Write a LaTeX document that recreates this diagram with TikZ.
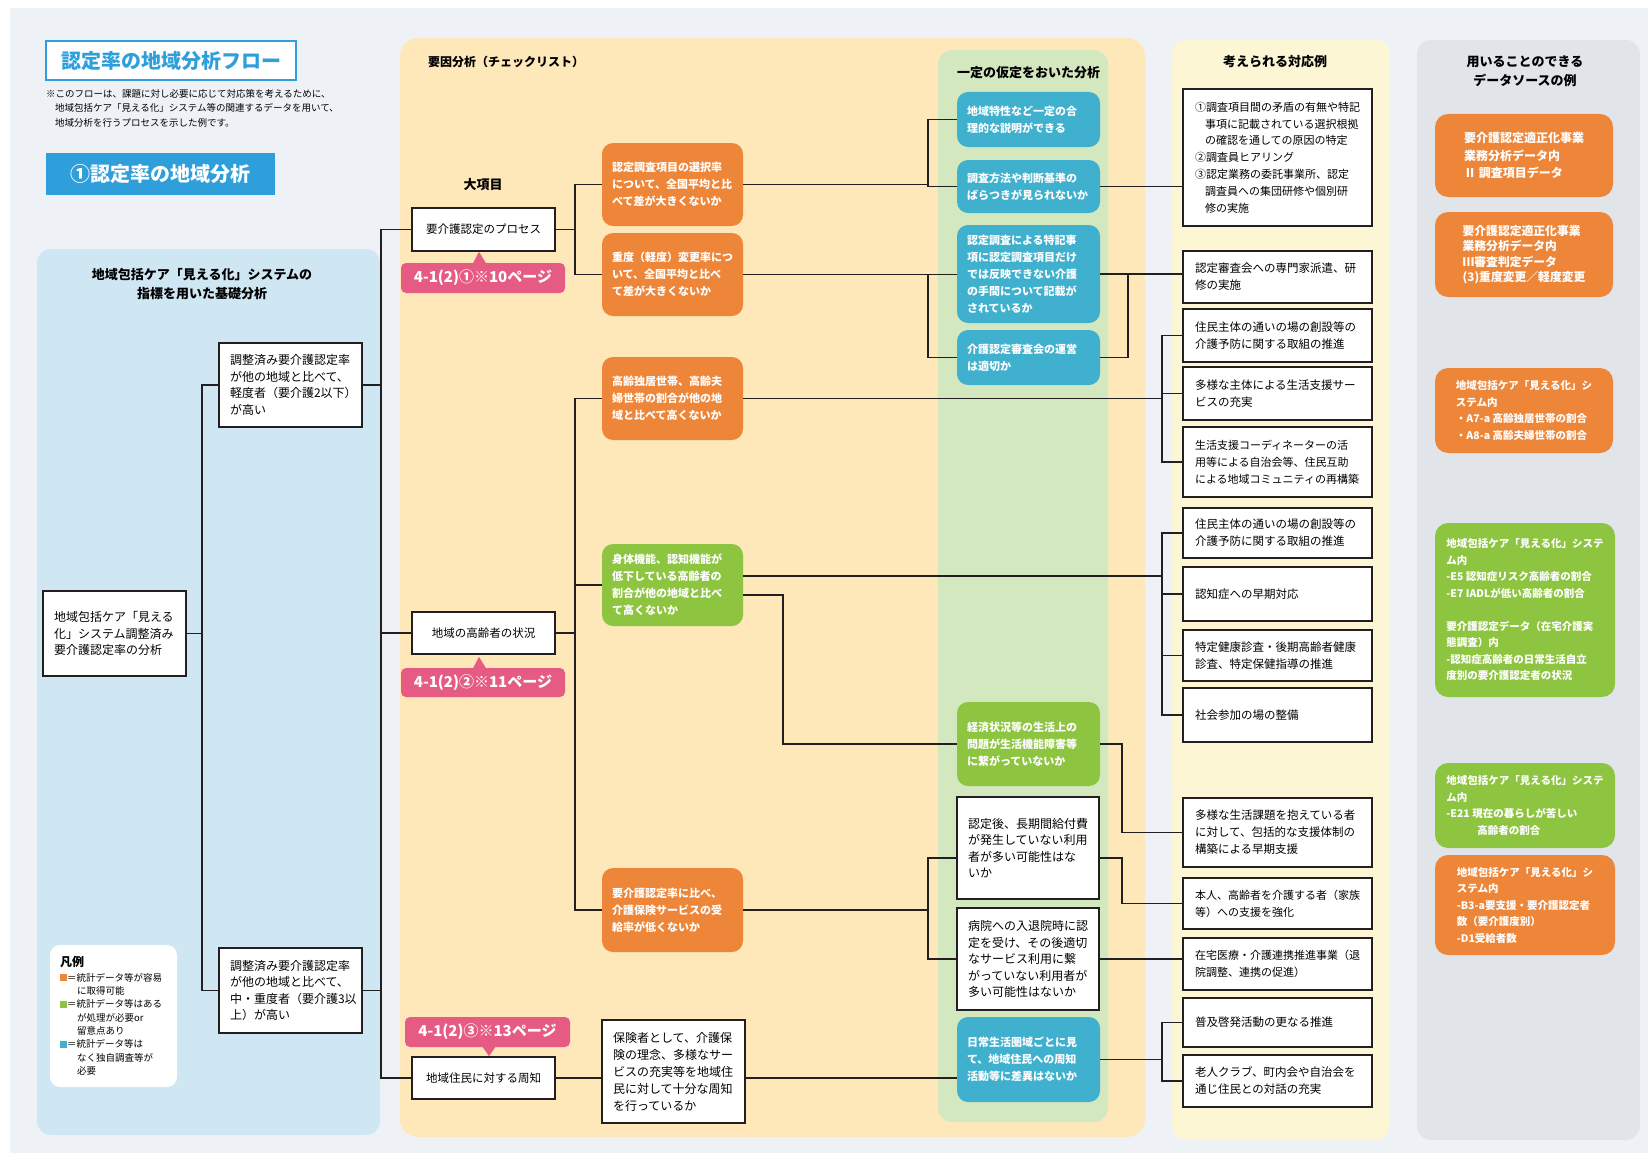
\documentclass[tikz,border=0pt]{standalone}
\usepackage{fontspec}
\setmainfont{Noto Sans CJK JP}

\definecolor{bgc}{HTML}{EEF2F7}
\definecolor{lpc}{HTML}{CFE6F3}
\definecolor{mpc}{HTML}{FEE7B9}
\definecolor{gpc}{HTML}{D4E8C0}
\definecolor{rpc}{HTML}{FDF6D4}
\definecolor{dpc}{HTML}{E1E5EA}
\definecolor{ocol}{HTML}{EE8639}
\definecolor{gcol}{HTML}{8DC540}
\definecolor{tcol}{HTML}{3FB0CD}
\definecolor{pcol}{HTML}{E65B83}
\definecolor{bcol}{HTML}{2E9FDB}
\definecolor{linec}{HTML}{231F20}

\tikzset{
  conn/.style={draw=linec, line width=1.1pt},
  cbox/.style={rounded corners=11pt, text=white, align=left,
    font=\bfseries\fontsize{11}{17}\selectfont,
    text width=121pt, inner xsep=10pt, inner ysep=0pt},
  obox/.style={cbox, fill=ocol},
  gbox/.style={cbox, fill=gcol},
  tbox/.style={cbox, fill=tcol, text width=123pt},
  wbox/.style={draw=linec, line width=1.2pt, fill=white, align=left,
    font=\fontsize{12}{16.5}\selectfont,
    text width=121pt, inner xsep=11pt, inner ysep=0pt},
  kbox/.style={draw=linec, line width=1.2pt, fill=white,
    font=\fontsize{11.5}{14}\selectfont,
    minimum width=143pt, minimum height=42pt, inner sep=0pt},
  rbox/.style={draw=linec, line width=1.2pt, fill=white, align=left,
    font=\fontsize{11.5}{17}\selectfont,
    text width=165pt, inner xsep=12pt, inner ysep=0pt},
  rsmall/.style={font=\fontsize{11}{16.8}\selectfont},
  dbox/.style={rounded corners=13pt, text=white, align=left,
    font=\bfseries\fontsize{10.5}{16.5}\selectfont,
    minimum width=178pt, inner sep=0pt},
  tagbox/.style={fill=pcol, rounded corners=5pt, text=white,
    font=\bfseries\fontsize{15}{18}\selectfont,
    minimum width=164pt, minimum height=30pt, inner sep=0pt},
  headtext/.style={font=\bfseries\fontsize{13}{19}\selectfont, align=center, inner sep=0pt}
}

\begin{document}
\begin{tikzpicture}[x=1pt,y=-1pt]
\useasboundingbox (0,0) rectangle (1648,1153);
\fill[white] (0,0) rectangle (1648,1153);
\fill[bgc] (10,8) rectangle (1648,1153);

% column panels
\fill[lpc, rounded corners=14pt] (37,249) rectangle (380,1135);
\fill[mpc, rounded corners=18pt] (400,38) rectangle (1145,1137);
\fill[gpc, rounded corners=14pt] (938,50) rectangle (1108,1122);
\fill[rpc, rounded corners=14pt] (1172,40) rectangle (1390,1140);
\fill[dpc, rounded corners=14pt] (1417,40) rectangle (1640,1140);

% title block
\node[draw=bcol, line width=1.3pt, fill=white, minimum width=250pt, minimum height=39pt,
  text=bcol, font=\bfseries\fontsize{20}{24}\selectfont, inner sep=0pt] (title) at (171,60.5) {認定率の地域分析フロー};
\node[anchor=north west, align=left, inner sep=0pt, font=\fontsize{9.5}{14.5}\selectfont] (note) at (46,89)
  {※このフローは、課題に対し必要に応じて対応策を考えるために、\\\hspace*{9pt}地域包括ケア「見える化」システム等の関連するデータを用いて、\\\hspace*{9pt}地域分析を行うプロセスを示した例です。};
\node[fill=bcol, minimum width=229pt, minimum height=42pt, text=white,
  font=\bfseries\fontsize{20}{24}\selectfont, inner sep=0pt] (banner) at (160.5,174) {①認定率の地域分析};

% basic analysis column
\node[headtext] (lhead) at (202,284) {地域包括ケア「見える化」システムの\\指標を用いた基礎分析};
\node[wbox, minimum height=85pt] (A) at (114.5,633.5) {地域包括ケア「見える\\化」システム調整済み\\要介護認定率の分析};
\node[wbox, minimum height=84pt] (B1) at (290.5,385) {調整済み要介護認定率\\が他の地域と比べて、\\軽度者（要介護2以下）\\が高い};
\node[wbox, minimum height=85pt] (B2) at (290.5,990.5) {調整済み要介護認定率\\が他の地域と比べて、\\中・重度者（要介護3以\\上）が高い};

% legend
\node[fill=white, rounded corners=10pt, minimum width=127pt, minimum height=142pt] (legbg) at (113.5,1016) {};
\node[anchor=west, inner sep=0pt, font=\bfseries\fontsize{12}{14}\selectfont] (legt) at (60,962) {凡例};
\node[anchor=north west, align=left, inner sep=0pt, font=\fontsize{9.5}{13.3}\selectfont] (legi) at (60,973)
  {\textcolor{ocol}{\rule{7pt}{7pt}}＝統計データ等が容易\\\hspace*{17pt}に取得可能\\
   \textcolor{gcol}{\rule{7pt}{7pt}}＝統計データ等はある\\\hspace*{17pt}が処理が必要or\\\hspace*{17pt}留意点あり\\
   \textcolor{tcol}{\rule{7pt}{7pt}}＝統計データ等は\\\hspace*{17pt}なく独自調査等が\\\hspace*{17pt}必要};

% factor analysis column
\node[anchor=west, inner sep=0pt, font=\bfseries\fontsize{12}{16}\selectfont] (mhead) at (428,62) {要因分析（チェックリスト）};
\node[headtext] (daik) at (483,185) {大項目};

\node[kbox, minimum height=43pt] (C1) at (483.5,229.5) {要介護認定のプロセス};
\node[kbox] (C2) at (483.5,633) {地域の高齢者の状況};
\node[kbox] (C3) at (483.5,1078) {地域住民に対する周知};

\node[tagbox] (tag1) at (483,278) {4-1(2)①※10ページ};
\fill[pcol] ([xshift=-10pt,yshift=-0.5pt]tag1.north) -- ([xshift=-4pt,yshift=11pt]tag1.north) -- ([xshift=3pt,yshift=-0.5pt]tag1.north) -- cycle;
\node[tagbox, minimum height=29pt] (tag2) at (483,682.5) {4-1(2)②※11ページ};
\fill[pcol] ([xshift=-10pt,yshift=-0.5pt]tag2.north) -- ([xshift=-4pt,yshift=11pt]tag2.north) -- ([xshift=3pt,yshift=-0.5pt]tag2.north) -- cycle;
\node[tagbox, minimum width=165pt] (tag3) at (487.5,1032) {4-1(2)③※13ページ};
\fill[pcol] ([xshift=-5pt,yshift=0.5pt]tag3.south) -- ([xshift=1.5pt,yshift=-9pt]tag3.south) -- ([xshift=8pt,yshift=0.5pt]tag3.south) -- cycle;

\node[obox, minimum height=83pt] (O1) at (672.5,184.5) {認定調査項目の選択率\\について、全国平均と比\\べて差が大きくないか};
\node[obox, minimum height=83pt] (O2) at (672.5,274.5) {重度（軽度）変更率につ\\いて、全国平均と比べ\\て差が大きくないか};
\node[obox, minimum height=83pt] (O3) at (672.5,398.5) {高齢独居世帯、高齢夫\\婦世帯の割合が他の地\\域と比べて高くないか};
\node[gbox, minimum height=82pt] (G1) at (672.5,585) {身体機能、認知機能が\\低下している高齢者の\\割合が他の地域と比べ\\て高くないか};
\node[obox, minimum height=84pt] (O4) at (672.5,910) {要介護認定率に比べ、\\介護保険サービスの受\\給率が低くないか};
\node[wbox, font=\fontsize{12}{17}\selectfont, minimum height=103pt] (W1) at (673.5,1071.5) {保険者として、介護保\\険の理念、多様なサー\\ビスの充実等を地域住\\民に対して十分な周知\\を行っているか};

% analysis under assumptions
\node[headtext] (ghead) at (1028.5,73) {一定の仮定をおいた分析};
\node[tbox, minimum height=55pt] (T1) at (1028.5,119.5) {地域特性など一定の合\\理的な説明ができる};
\node[tbox, minimum height=53pt] (T2) at (1028.5,186.5) {調査方法や判断基準の\\ばらつきが見られないか};
\node[tbox, minimum height=98pt] (T3) at (1028.5,274) {認定調査による特記事\\項に認定調査項目だけ\\では反映できない介護\\の手間について記載が\\されているか};
\node[tbox, minimum height=55pt] (T4) at (1028.5,357.5) {介護認定審査会の運営\\は適切か};
\node[gbox, text width=123pt, minimum height=84pt] (G2) at (1028.5,744) {経済状況等の生活上の\\問題が生活機能障害等\\に繋がっていないか};
\node[wbox, text width=120pt, minimum height=102pt] (W2) at (1028,848) {認定後、長期間給付費\\が発生していない利用\\者が多い可能性はな\\いか};
\node[wbox, text width=120pt, minimum height=102pt] (W3) at (1028,959) {病院への入退院時に認\\定を受け、その後適切\\なサービス利用に繋\\がっていない利用者が\\多い可能性はないか};
\node[tbox, minimum height=85pt] (T5) at (1028.5,1059.5) {日常生活圏域ごとに見\\て、地域住民への周知\\活動等に差異はないか};

% possible responses
\node[headtext] (rhead) at (1275,62) {考えられる対応例};
\node[rbox, rsmall, minimum height=137pt] (R1) at (1277.5,157.5) {①調査項目間の矛盾の有無や特記\\\hspace*{10pt}事項に記載されている選択根拠\\\hspace*{10pt}の確認を通しての原因の特定\\②調査員ヒアリング\\③認定業務の委託事業所、認定\\\hspace*{10pt}調査員への集団研修や個別研\\\hspace*{10pt}修の実施};
\node[rbox, minimum height=52pt] (R2) at (1277.5,277) {認定審査会への専門家派遣、研\\修の実施};
\node[rbox, minimum height=53pt] (R3) at (1277.5,335.5) {住民主体の通いの場の創設等の\\介護予防に関する取組の推進};
\node[rbox, minimum height=53pt] (R4) at (1277.5,393.5) {多様な主体による生活支援サー\\ビスの充実};
\node[rbox, rsmall, minimum height=70pt] (R5) at (1277.5,462) {生活支援コーディネーターの活\\用等による自治会等、住民互助\\による地域コミュニティの再構築};
\node[rbox, minimum height=50pt] (R6) at (1277.5,533) {住民主体の通いの場の創設等の\\介護予防に関する取組の推進};
\node[rbox, minimum height=54pt] (R7) at (1277.5,594) {認知症への早期対応};
\node[rbox, minimum height=51pt] (R8) at (1277.5,655.5) {特定健康診査・後期高齢者健康\\診査、特定保健指導の推進};
\node[rbox, minimum height=54pt] (R9) at (1277.5,715) {社会参加の場の整備};
\node[rbox, minimum height=69pt] (R10) at (1277.5,832.5) {多様な生活課題を抱えている者\\に対して、包括的な支援体制の\\構築による早期支援};
\node[rbox, rsmall, minimum height=51pt] (R11) at (1277.5,903.5) {本人、高齢者を介護する者（家族\\等）への支援を強化};
\node[rbox, rsmall, minimum height=52pt] (R12) at (1277.5,964) {在宅医療・介護連携推進事業（退\\院調整、連携の促進）};
\node[rbox, minimum height=49pt] (R13) at (1277.5,1022.5) {普及啓発活動の更なる推進};
\node[rbox, minimum height=52pt] (R14) at (1277.5,1081) {老人クラブ、町内会や自治会を\\通じ住民との対話の充実};

% data sources
\node[headtext] (dhead) at (1525,71) {用いることのできる\\データソースの例};
\node[dbox, fill=ocol, minimum height=83pt, font=\bfseries\fontsize{12}{17.5}\selectfont] (D1) at (1524,155.5) {要介護認定適正化事業\\業務分析データ内\\Ⅱ 調査項目データ};
\node[dbox, fill=ocol, minimum height=85pt, font=\bfseries\fontsize{11.8}{15.5}\selectfont] (D2) at (1524,254.5) {要介護認定適正化事業\\業務分析データ内\\Ⅲ審査判定データ\\(3)重度変更／軽度変更};
\node[dbox, fill=ocol, minimum height=85pt] (D3) at (1524,410.5) {地域包括ケア「見える化」シ\\ステム内\\・A7-a 高齢独居世帯の割合\\・A8-a 高齢夫婦世帯の割合};
\node[dbox, fill=gcol, minimum width=180pt, minimum height=174pt] (D4) at (1525,610) {地域包括ケア「見える化」システ\\ム内\\-E5 認知症リスク高齢者の割合\\-E7 IADLが低い高齢者の割合\\[16.5pt]要介護認定データ（在宅介護実\\態調査）内\\-認知症高齢者の日常生活自立\\度別の要介護認定者の状況};
\node[dbox, fill=gcol, minimum width=180pt, minimum height=85pt] (D5) at (1525,805.5) {地域包括ケア「見える化」システ\\ム内\\-E21 現在の暮らしが苦しい\\\hspace*{31pt}高齢者の割合};
\node[dbox, fill=ocol, minimum width=180pt, minimum height=100pt] (D6) at (1525,905) {地域包括ケア「見える化」シ\\ステム内\\-B3-a要支援・要介護認定者\\数（要介護度別）\\-D1受給者数};

% junction columns of the tree
\coordinate (xa) at (202,0);
\coordinate (xb) at (381,0);
\coordinate (xc) at (575,0);
\coordinate (xg) at (783,0);
\coordinate (xd) at (928,0);
\coordinate (xh) at (1122,0);
\coordinate (xe) at (1128,0);
\coordinate (xf) at (1162,0);
\coordinate (g1a) at ([yshift=9pt]G1.east);
\coordinate (g1b) at ([yshift=-10pt]G1.east);
\coordinate (w2r) at ([yshift=-10pt]W2.east);
\coordinate (w2l) at ([yshift=-10pt]W2.west);

% basic analysis tree
\draw[conn] (A.east) -- (A.east -| xa);
\draw[conn] (B1.west) -| (xa |- B2.west) -- (B2.west);
\draw[conn] (B1.east) -- (B1.east -| xb);
\draw[conn] (B2.east) -- (B2.east -| xb);
\draw[conn] (C1.west) -| (xb |- C3.west) -- (C3.west);
\draw[conn] (C2.west) -- (C2.west -| xb);

% main items to checklist
\draw[conn] (C1.east) -- (C1.east -| xc);
\draw[conn] (O1.west) -| (xc |- O2.west) -- (O2.west);
\draw[conn] (C2.east) -- (C2.east -| xc);
\draw[conn] (O3.west) -| (xc |- O4.west) -- (O4.west);
\draw[conn] (G1.west) -- (G1.west -| xc);
\draw[conn] (C3.east) -- (W1.west |- C3.east);
\draw[conn] (W1.east |- C3.east) -- (T5.west |- C3.east);

% checklist to assumptions and responses
\draw[conn] (O1.east) -- (O1.east -| xd);
\draw[conn] (T1.west) -| (xd |- T2.west) -- (T2.west);
\draw[conn] (T2.east) -- (R1.west |- T2.east);
\draw[conn] (O2.east) -- (T3.west |- O2.east);
\draw[conn] (xd |- O2.east) |- (T4.west);
\draw[conn] (T3.east) -- (R2.west |- T3.east);
\draw[conn] (T4.east) -| (xe |- T3.east);
\draw[conn] (O3.east) -- (O3.east -| xf);
\draw[conn] (R3.west) -| (xf |- R5.west) -- (R5.west);
\draw[conn] (R4.west) -- (R4.west -| xf);
\draw[conn] (g1a) -- (g1a -| xf);
\draw[conn] (R6.west) -| (xf |- R9.west) -- (R9.west);
\draw[conn] (R7.west) -- (R7.west -| xf);
\draw[conn] (R8.west) -- (R8.west -| xf);
\draw[conn] (g1b) -| (xg |- G2.west) -- (G2.west);
\draw[conn] (G2.east) -| (xh |- R10.west) -- (R10.west);
\draw[conn] (w2r) -| (xh |- R11.west) -- (R11.west);
\draw[conn] (W3.east) -- (R12.west |- W3.east);
\draw[conn] (O4.east) -- (O4.east -| xd);
\draw[conn] (w2l) -| (xd |- W3.west) -- (W3.west);
\draw[conn] (T5.east) -- (T5.east -| xf);
\draw[conn] (R13.west) -| (xf |- R14.west) -- (R14.west);
\end{tikzpicture}
\end{document}
